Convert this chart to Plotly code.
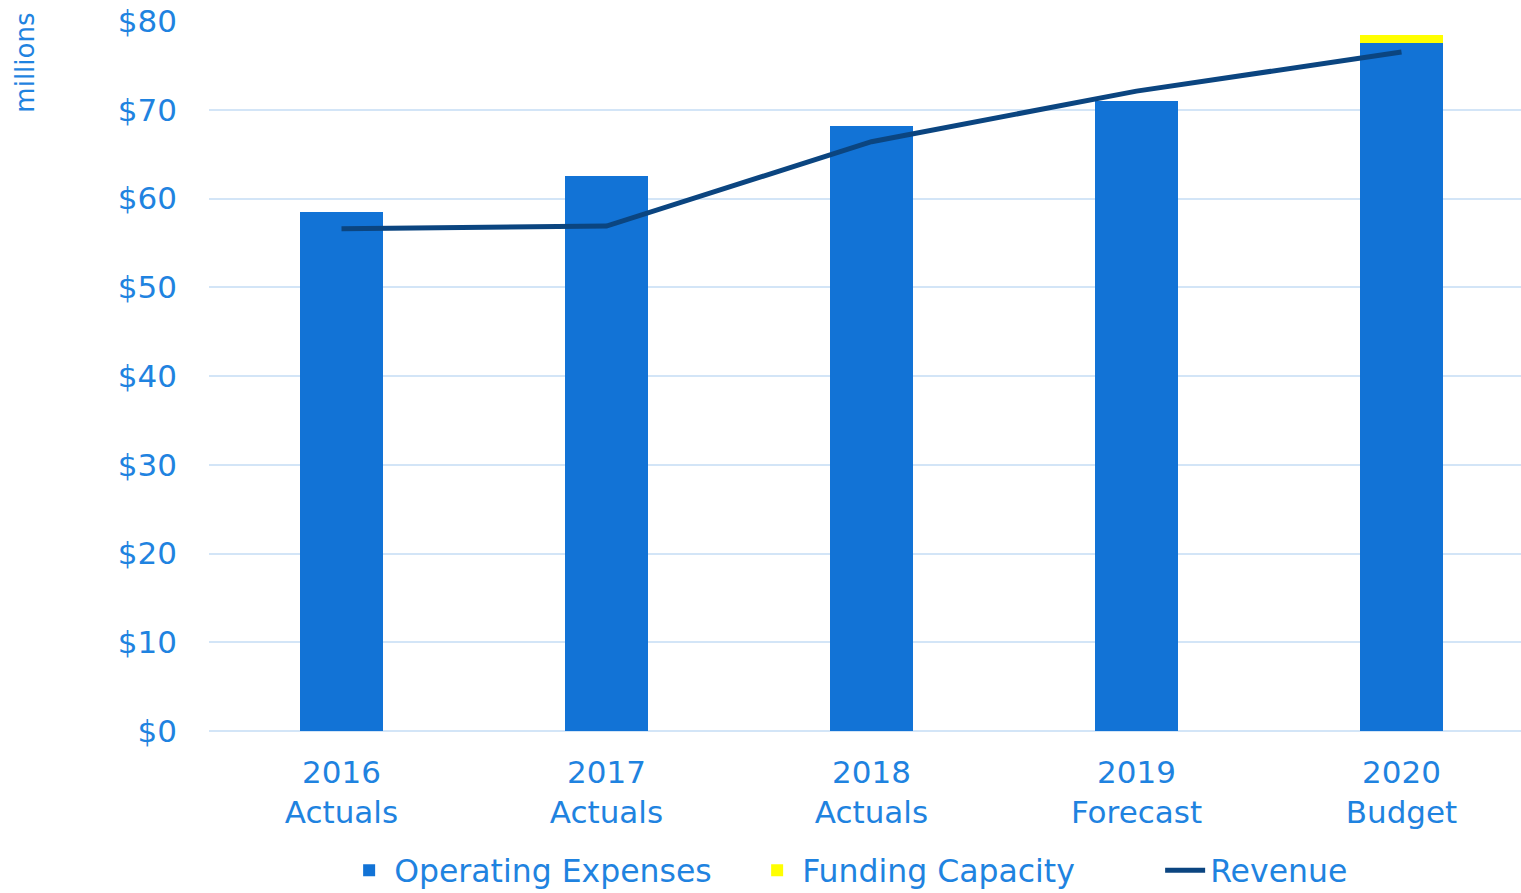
import plotly.graph_objects as go

categories = ["2016<br>Actuals", "2017<br>Actuals", "2018<br>Actuals", "2019<br>Forecast", "2020<br>Budget"]
operating_expenses = [58.5, 62.5, 68.2, 71.0, 77.5]
funding_capacity = [0, 0, 0, 0, 0.9]
revenue = [56.6, 56.9, 66.4, 72.1, 76.5]
y_ticks = [0, 10, 20, 30, 40, 50, 60, 70, 80]
y_tick_labels = ["$" + str(v) for v in y_ticks]

TEXT = "#1f83e0"
GRID = "#d3e5f7"
FONT = "DejaVu Sans"

fig = go.Figure()
fig.add_trace(go.Bar(x=list(range(5)), y=operating_expenses, name="Operating Expenses",
                     marker=dict(color="#1273d6", line=dict(width=0)), width=0.313))
fig.add_trace(go.Bar(x=list(range(5)), y=funding_capacity, name="Funding Capacity",
                     marker=dict(color="#ffff00", line=dict(width=0)), width=0.313))
fig.add_trace(go.Scatter(x=list(range(5)), y=revenue, name="Revenue", mode="lines",
                         line=dict(color="#0b4580", width=5)))

fig.update_layout(
    width=1521, height=893,
    barmode="stack",
    plot_bgcolor="white", paper_bgcolor="white",
    margin=dict(l=209, r=0, t=21, b=162, autoexpand=False),
    font=dict(family=FONT, color=TEXT, size=31),
    showlegend=True,
    legend=dict(orientation="h", x=0.103, xanchor="left", y=-0.196, yanchor="middle",
                font=dict(size=31.5, color=TEXT), traceorder="normal", itemwidth=40,
                entrywidth=353, entrywidthmode="pixels"),
    xaxis=dict(tickmode="array", tickvals=list(range(5)), ticktext=categories,
               range=[-0.5, 4.451], showgrid=False, zeroline=False, showline=False,
               ticks="", ticklabelstandoff=20, tickfont=dict(size=31, color=TEXT)),
    yaxis=dict(tickmode="array", tickvals=y_ticks, ticktext=y_tick_labels,
               range=[0, 80], showgrid=True, gridcolor=GRID, gridwidth=2,
               zeroline=True, zerolinecolor=GRID, zerolinewidth=2, showline=False,
               ticks="", ticklabelstandoff=31, tickfont=dict(size=31, color=TEXT)),
    annotations=[dict(text="millions", xref="paper", yref="paper", x=-0.14, y=1.015,
                      xanchor="center", yanchor="top", textangle=-90, showarrow=False,
                      font=dict(size=26, color=TEXT, family=FONT))],
)

fig.write_html("out.html")
